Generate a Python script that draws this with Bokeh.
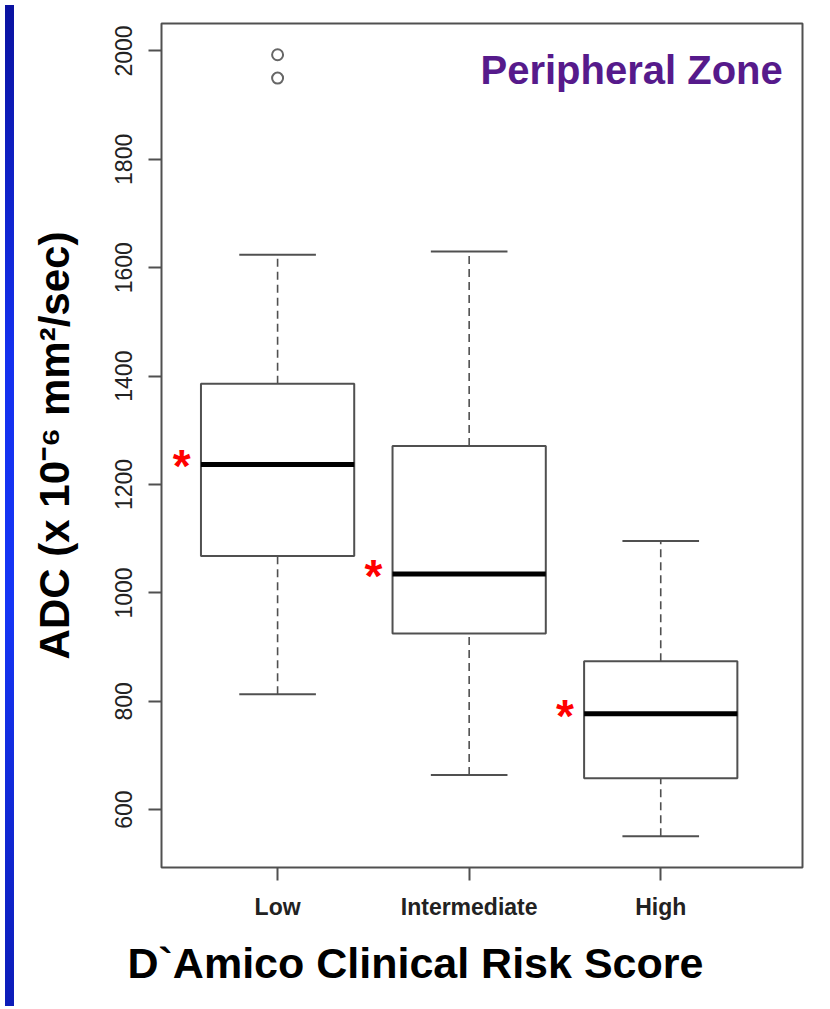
from bokeh.plotting import figure
from bokeh.models import FixedTicker, Range1d, Div, Title
from bokeh.layouts import row
from bokeh.embed import file_html
from bokeh.resources import INLINE
from bokeh.core.properties import value

# ---- data ----
categories = ["Low", "Intermediate", "High"]
positions = [1, 2, 3]
q1 = [1068, 925, 658]
medians = [1237, 1035, 777]
q3 = [1386, 1271, 874]
lower_whisker = [813, 664, 551]
upper_whisker = [1624, 1630, 1096]
outlier_pos = [1, 1]
outlier_val = [1993, 1950]
y_ticks = [600, 800, 1000, 1200, 1400, 1600, 1800, 2000]
panel_title = "Peripheral Zone"
x_title = "D`Amico Clinical Risk Score"
y_title = "ADC (x 10\u207b\u2076 mm\u00b2/sec)"

FONT = "Liberation Sans"
BOXW = 0.8
W = 805
H = 1001

all_vals = lower_whisker + upper_whisker + outlier_val
lo, hi = min(all_vals), max(all_vals)
pad = 0.04 * (hi - lo)

p = figure(width=W, height=H, output_backend="svg", toolbar_location=None,
           x_range=Range1d(0.394, 3.74), y_range=Range1d(lo - pad, hi + pad),
           min_border_left=142, min_border_right=22, min_border_top=23,
           min_border_bottom=134)
p.background_fill_color = "white"
p.border_fill_color = "white"
p.outline_line_color = "#505050"
p.outline_line_width = 2
p.xgrid.visible = False
p.ygrid.visible = False

# axes
for ax in (p.xaxis[0], p.yaxis[0]):
    ax.axis_line_color = None
    ax.major_tick_line_color = "#505050"
    ax.major_tick_line_width = 2
    ax.major_tick_out = 13
    ax.major_tick_in = 0
    ax.minor_tick_line_color = None
    ax.major_label_text_font = FONT
    ax.major_label_text_color = "#222222"
    ax.major_label_text_font_size = "23px"

p.yaxis.ticker = FixedTicker(ticks=y_ticks)
p.yaxis.major_label_orientation = "vertical"
p.yaxis.major_label_standoff = 16
p.yaxis.axis_label = y_title
p.yaxis.axis_label_text_font = FONT
p.yaxis.axis_label_text_font_style = "bold"
p.yaxis.axis_label_text_font_size = "42px"
p.yaxis.axis_label_text_color = "black"
p.yaxis.axis_label_standoff = 35

p.xaxis.ticker = FixedTicker(ticks=positions)
p.xaxis.major_label_overrides = {pos: c for pos, c in zip(positions, categories)}
p.xaxis.major_label_text_font_style = "bold"
p.xaxis.major_label_standoff = 13

p.add_layout(Title(text=x_title, align="left", offset=-34, standoff=28,
                   text_font=FONT, text_font_style="bold",
                   text_font_size="43px", text_color="black"), "below")

# whiskers (dashed)
p.segment(x0=positions, y0=q3, x1=positions, y1=upper_whisker,
          line_color="#505050", line_width=1.6, line_dash="8 5")
p.segment(x0=positions, y0=lower_whisker, x1=positions, y1=q1,
          line_color="#505050", line_width=1.6, line_dash="8 5")
# caps
cap_l = [x - BOXW / 4 for x in positions]
cap_r = [x + BOXW / 4 for x in positions]
p.segment(x0=cap_l, y0=upper_whisker, x1=cap_r, y1=upper_whisker,
          line_color="#505050", line_width=2)
p.segment(x0=cap_l, y0=lower_whisker, x1=cap_r, y1=lower_whisker,
          line_color="#505050", line_width=2)
# boxes
box_l = [x - BOXW / 2 for x in positions]
box_r = [x + BOXW / 2 for x in positions]
p.quad(left=box_l, right=box_r, bottom=q1, top=q3,
       fill_color="white", line_color="#505050", line_width=2)
# medians
p.segment(x0=box_l, y0=medians, x1=box_r, y1=medians,
          line_color="black", line_width=5)
# outliers
p.scatter(x=outlier_pos, y=outlier_val, marker="circle", size=11,
          fill_color=None, line_color="#666666", line_width=2)

# significance asterisks
p.text(x=[x - 0.5 for x in positions], y=medians, text=["*"] * 3,
       text_color="red", text_font=value(FONT), text_font_style="bold",
       text_font_size="46px", text_align="center", text_baseline="middle",
       y_offset=2)

# panel title
p.text(x=[3.637], y=[1965], text=[panel_title], text_color="#561a8b",
       text_font=value(FONT), text_font_style="bold", text_font_size="40px",
       text_align="right", text_baseline="middle")

strip = Div(width=9, height=H, styles={
    "background": "linear-gradient(to bottom, #0a12a0 0%, #1430ee 35%, #1535f5 60%, #0c1cb8 100%)"})

layout = row(strip, p, spacing=0)
open("out.html", "w").write(file_html(layout, INLINE))
